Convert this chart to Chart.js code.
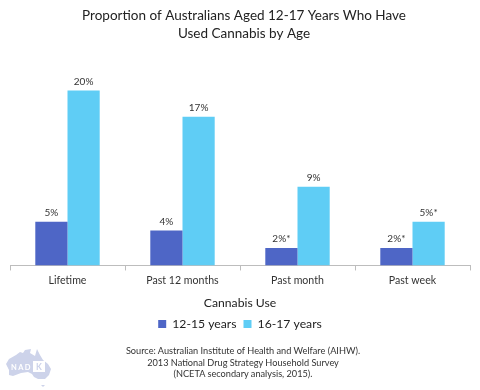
<!DOCTYPE html>
<html>
<head>
<meta charset="utf-8">
<script src="https://cdn.jsdelivr.net/npm/chart.js@4"></script>
<style>
body { margin:0; background:#fff; font-family:Lato, sans-serif; }
#wrap { position:relative; width:480px; height:390px; overflow:hidden; }
#source { position:absolute; left:0; width:486px; top:345px; text-align:center; font-size:9.2px; line-height:11.7px; color:#333; }
#logo { position:absolute; left:5px; top:347px; }
</style>
</head>
<body>
<div id="wrap">
<canvas id="chart" width="480" height="390"></canvas>
<svg id="logo" width="48" height="40" viewBox="0 0 48 40">
	<path d="M1 17 L4 12 L11 8 L15 5 L18 6 L20 3 L26 2 L25 6 L30 9 L32 2 L35 8 L38 13 L43 17 L46 22 L44 28 L40 32 L33 32 L29 30 L27 27 L23 25 L16 26 L8 29 L4 28 L4 23 Z M36 38 L40 38 L38 40 Z" fill="#cdd3ea"/>
	<rect x="28" y="14" width="12" height="11" fill="#fff"/>
	<text x="6" y="23" font-family="Lato" font-weight="700" font-size="7.5" letter-spacing="1.4" fill="#fff">NAD</text>
	<text x="31" y="23" font-family="Lato" font-weight="700" font-size="8.5" fill="#cdd3ea">K</text>
</svg>
<div id="source">Source: Australian Institute of Health and Welfare (AIHW).<br>2013 National Drug Strategy Household Survey<br>(NCETA secondary analysis, 2015).</div>
</div>
<script>
var categories = ['Lifetime', 'Past 12 months', 'Past month', 'Past week'];
var younger = [5, 4, 2, 2];
var older = [20, 17, 9, 5];
var youngerLabels = ['5%', '4%', '2%*', '2%*'];
var olderLabels = ['20%', '17%', '9%', '5%*'];

// value labels above each bar, title nudged a little right of centre
var barLabels = {
	id: 'barLabels',
	afterLayout: function (chart) {
		chart.titleBlock.left += 8;
	},
	afterDatasetsDraw: function (chart) {
		var ctx = chart.ctx;
		var texts = [youngerLabels, olderLabels];
		ctx.save();
		ctx.font = '10px Lato';
		ctx.fillStyle = '#333';
		ctx.textAlign = 'center';
		ctx.textBaseline = 'bottom';
		texts.forEach(function (list, d) {
			chart.getDatasetMeta(d).data.forEach(function (bar, i) {
				ctx.fillText(list[i], bar.x, bar.y - 4);
			});
		});
		ctx.restore();
	}
};

new Chart(document.getElementById('chart'), {
	type: 'bar',
	data: {
		labels: categories,
		datasets: [
			{ label: '12-15 years', data: younger, backgroundColor: '#4e66c6' },
			{ label: '16-17 years', data: older, backgroundColor: '#5fcdf5' }
		]
	},
	options: {
		responsive: false,
		animation: false,
		layout: { padding: { left: 10, right: 10, bottom: 50, top: 0 } },
		categoryPercentage: 0.56,
		barPercentage: 1,
		scales: {
			x: {
				grid: { drawOnChartArea: false, color: '#bdbdbd', tickLength: 5, offset: true },
				border: { color: '#bdbdbd' },
				ticks: { color: '#333', font: { family: 'Lato', size: 10.6 }, padding: 4, maxRotation: 0 },
				title: { display: true, text: 'Cannabis Use', color: '#222', font: { family: 'Lato', size: 12.2 }, padding: { top: 5, bottom: 0 } }
			},
			y: { display: false, min: 0, max: 25 }
		},
		plugins: {
			title: {
				display: true,
				text: ['Proportion of Australians Aged 12-17 Years Who Have', 'Used Cannabis by Age'],
				color: '#222',
				font: { family: 'Lato', size: 13.5, weight: 'normal', lineHeight: 1.33 },
				padding: { top: 7, bottom: 4 }
			},
			legend: {
				position: 'bottom',
				labels: { boxWidth: 8, boxHeight: 8, color: '#222', font: { family: 'Lato', size: 12.2 }, padding: 7 }
			},
			tooltip: { enabled: false }
		}
	},
	plugins: [barLabels]
});
</script>
</body>
</html>
